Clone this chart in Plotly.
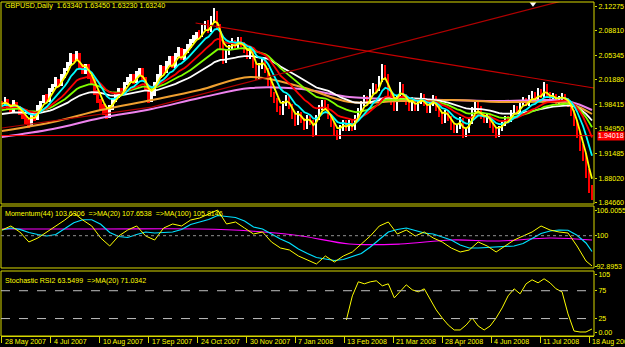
import plotly.graph_objects as go
import pandas as pd

# ---------------- data ----------------
date_labels = ["28 May 2007", "4 Jul 2007", "10 Aug 2007", "17 Sep 2007", "24 Oct 2007",
               "30 Nov 2007", "7 Jan 2008", "13 Feb 2008", "21 Mar 2008", "28 Apr 2008",
               "4 Jun 2008", "11 Jul 2008", "18 Aug 2008"]
bars_between_labels = 49 / 3

first_open = 1.9861
closes = [
    1.9833, 1.9903, 1.9818, 1.9762, 1.9861, 1.9804, 1.9734, 1.9678, 1.9607, 1.9565,
    1.9678, 1.9649, 1.9790, 1.9875, 1.9945, 1.9903, 2.0044, 2.0100, 2.0185, 2.0128,
    2.0241, 2.0326, 2.0410, 2.0523, 2.0467, 2.0551, 2.0382, 2.0298, 2.0382, 2.0241,
    2.0157, 2.0016, 1.9903, 1.9818, 1.9734, 1.9678, 1.9790, 1.9903, 1.9959, 2.0044,
    2.0016, 2.0128, 2.0185, 2.0241, 2.0157, 2.0269, 2.0326, 2.0213, 2.0072, 1.9903,
    1.9988, 2.0128, 2.0241, 2.0354, 2.0298, 2.0410, 2.0495, 2.0382, 2.0523, 2.0607,
    2.0495, 2.0579, 2.0664, 2.0720, 2.0777, 2.0833, 2.0805, 2.0917, 2.0974, 2.0889,
    2.1030, 2.1115, 2.0946, 2.0692, 2.0467, 2.0579, 2.0636, 2.0720, 2.0664, 2.0748,
    2.0692, 2.0607, 2.0523, 2.0607, 2.0410, 2.0241, 2.0382, 2.0467, 2.0326, 2.0157,
    1.9988, 1.9903, 1.9790, 1.9734, 1.9847, 1.9931, 1.9818, 1.9678, 1.9593, 1.9706,
    1.9621, 1.9537, 1.9649, 1.9593, 1.9452, 1.9649, 1.9790, 1.9875, 1.9818, 1.9678,
    1.9565, 1.9452, 1.9396, 1.9508, 1.9593, 1.9508, 1.9593, 1.9508, 1.9649, 1.9762,
    1.9847, 1.9931, 1.9875, 2.0016, 2.0100, 2.0044, 2.0185, 2.0354, 2.0241, 1.9988,
    1.9875, 1.9790, 1.9931, 2.0100, 1.9959, 1.9875, 1.9790, 1.9903, 1.9790, 1.9875,
    1.9959, 1.9847, 1.9762, 1.9847, 1.9931, 1.9790, 1.9706, 1.9621, 1.9734, 1.9649,
    1.9537, 1.9480, 1.9537, 1.9621, 1.9424, 1.9480, 1.9593, 1.9762, 1.9847, 1.9790,
    1.9678, 1.9621, 1.9678, 1.9565, 1.9480, 1.9424, 1.9508, 1.9565, 1.9649, 1.9621,
    1.9734, 1.9790, 1.9734, 1.9847, 1.9903, 1.9847, 1.9931, 1.9988, 1.9903, 2.0016,
    1.9959, 2.0100, 1.9988, 1.9903, 1.9959, 1.9875, 1.9931, 1.9959, 1.9903, 1.9847,
    1.9734, 1.9593, 1.9424, 1.9255, 1.9114, 1.8889, 1.8663, 1.8550,
]
# shadow lengths above / below each body, in pips
wick_up_pips = [
    25, 40, 20, 30, 45, 20, 15, 30, 20, 35,
    30, 25, 40, 20, 35, 45, 30, 25, 40, 20,
    35, 30, 25, 40, 30, 45, 20, 30, 35, 25,
    20, 30, 25, 20, 30, 35, 40, 25, 30, 35,
    25, 30, 40, 35, 30, 45, 30, 25, 20, 30,
    40, 35, 30, 45, 30, 40, 35, 30, 40, 45,
    35, 40, 30, 45, 40, 35, 50, 45, 40, 55,
    60, 80, 40, 30, 35, 45, 40, 50, 35, 45,
    40, 35, 30, 45, 30, 25, 40, 35, 30, 25,
    30, 35, 25, 30, 45, 40, 30, 25, 35, 40,
    30, 25, 40, 30, 25, 45, 40, 35, 30, 25,
    30, 25, 30, 40, 35, 30, 35, 30, 40, 35,
    40, 45, 35, 40, 45, 35, 50, 60, 40, 30,
    35, 30, 45, 55, 35, 30, 25, 40, 30, 35,
    40, 30, 25, 35, 40, 30, 25, 30, 35, 30,
    25, 30, 35, 40, 30, 35, 40, 45, 35, 30,
    30, 25, 35, 30, 25, 30, 35, 40, 35, 30,
    35, 40, 30, 45, 40, 35, 40, 45, 35, 50,
    40, 55, 35, 30, 40, 30, 35, 40, 30, 25,
    20, 25, 30, 35, 30, 40, 45, 40,
]
wick_dn_pips = [
    30, 20, 35, 40, 25, 30, 35, 40, 45, 50,
    30, 35, 25, 30, 20, 30, 25, 30, 20, 35,
    25, 30, 20, 25, 35, 20, 40, 35, 25, 40,
    35, 40, 45, 50, 45, 40, 35, 30, 25, 30,
    25, 30, 20, 25, 35, 20, 30, 35, 40, 45,
    30, 25, 20, 25, 30, 20, 25, 30, 25, 20,
    30, 25, 20, 25, 20, 30, 25, 20, 30, 35,
    30, 40, 60, 70, 55, 40, 35, 30, 35, 30,
    35, 40, 45, 35, 50, 55, 40, 35, 45, 50,
    45, 40, 50, 45, 35, 30, 40, 45, 50, 40,
    45, 50, 40, 45, 70, 35, 30, 25, 30, 40,
    45, 50, 55, 40, 35, 40, 35, 40, 30, 25,
    30, 25, 30, 25, 30, 25, 20, 30, 45, 50,
    40, 45, 35, 30, 40, 45, 40, 35, 40, 35,
    30, 35, 40, 35, 30, 40, 45, 50, 40, 45,
    50, 45, 40, 45, 60, 40, 35, 25, 30, 35,
    40, 45, 40, 50, 45, 50, 40, 35, 30, 35,
    30, 25, 30, 25, 30, 25, 30, 25, 30, 25,
    30, 25, 35, 30, 35, 30, 30, 35, 40, 45,
    50, 55, 60, 65, 70, 80, 75, 60,
]

# fast exponential averages: span (in bars of this series) and value at the first bar
ema_spans = [4, 9, 17, 28, 45]
ema_seeds = [1.9847, 1.9818, 1.9790, 1.9762, 1.9706]

# slow averages at sample bars
slow_ma_idx = [0, 17, 33, 50, 66, 83, 100, 116, 133, 150, 166, 183, 190, 197]
orange_ma = [1.9466, 1.9593, 1.9762, 1.9903, 2.0044, 2.0227, 2.0086, 1.9875, 1.9889,
             1.9903, 1.9875, 1.9875, 1.9847, 1.9706]
violet_ma = [1.9382, 1.9494, 1.9649, 1.9776, 1.9931, 2.0072, 2.0058, 1.9945, 1.9917,
             1.9903, 1.9889, 1.9903, 1.9875, 1.9762]

# drawn objects (bar index, price)
rising_line_idx = [0, 50, 197.67]
rising_line_val = [1.9509, 1.9804, 2.1415]
falling_line_idx = [64.67, 197.67]
falling_line_val = [2.0988, 2.0072]
marker_idx, marker_price = 177.3, 2.1258
hline_price = 1.94018
main_ticks = [2.12275, 2.08810, 2.05345, 2.01880, 1.98415, 1.94950, 1.91485, 1.88020, 1.84660]

# Momentum(44)
mom_idx = list(range(0, 196, 3)) + [197]
momentum = [
    101.33, 102.27, 100.87, 98.53, 99.46, 100.87, 102.27, 103.67, 105.31, 103.67,
    102.27, 99.46, 97.59, 99.93, 101.33, 102.27, 99.93, 98.99, 101.80, 102.74,
    102.27, 103.67, 104.14, 105.08, 106.01, 102.74, 103.21, 101.80, 100.40, 100.87,
    98.53, 97.12, 96.65, 95.25, 94.31, 93.38, 95.25, 93.84, 95.25, 96.19,
    98.06, 99.93, 102.27, 103.21, 100.40, 101.33, 99.93, 100.87, 99.46, 98.53,
    97.12, 96.19, 96.65, 98.53, 97.59, 96.19, 97.59, 98.99, 99.93, 100.87,
    102.27, 101.33, 100.87, 100.63, 97.59, 94.08, 92.91,
]
mom_ma100_idx = [0, 33, 66, 83, 100, 116, 133, 150, 166, 183, 197]
mom_ma100 = [101.57, 101.57, 101.57, 101.10, 99.93, 98.06, 98.06, 98.99, 98.76, 99.46, 98.99]
mom_ticks = [106.0055, 100, 92.8953]
mom_tick_text = ["106.0055", "100", "92.8953"]

# Stochastic RSI
stoch_idx = list(range(115, 198, 2))
stoch = [
    22.5, 65.8, 91.0, 87.4, 91.0, 92.8, 83.8, 87.4, 62.2, 73.0,
    85.6, 76.6, 73.0, 78.4, 58.6, 40.5, 26.1, 13.5, 4.5, 4.5,
    13.5, 26.1, 11.7, 4.5, 11.7, 26.1, 44.1, 65.8, 78.4, 69.4,
    87.4, 94.6, 89.2, 96.4, 89.2, 78.4, 73.0, 33.3, 2.7, 0.9,
    0.9, 6.3,
]
stoch_ticks = [105, 75, 25, 0]
stoch_tick_text = ["105", "75", "25", "0.00"]

# ---------------- styles ----------------
FG = "#FFFF00"
FRAME = "#D8D800"
FONT = "Liberation Sans, Arial, sans-serif"
FS = 7.1
ema_colors = ["#FFFF00", "#00FFFF", "#FF0000", "#80FF00", "#FFFFFF"]

n = len(closes)
idx = list(range(n))
opens = [first_open] + closes[:-1]

fig = go.Figure()

# price bars: high-low range, white when rising, red when falling
for up, color in [(True, "#FFFFFF"), (False, "#FF0000")]:
    xs, bases, hs = [], [], []
    for i in idx:
        o, c = opens[i], closes[i]
        if (c >= o) == up:
            lo = min(o, c) - wick_dn_pips[i] / 10000
            hi = max(o, c) + wick_up_pips[i] / 10000
            xs.append(i)
            bases.append(lo)
            hs.append(hi - lo)
    fig.add_trace(go.Bar(x=xs, y=hs, base=bases, width=0.6, marker_color=color,
                         marker_line_width=0, xaxis="x", yaxis="y", showlegend=False))

# slow averages
fig.add_trace(go.Scatter(x=slow_ma_idx, y=violet_ma, mode="lines", line=dict(color="#EE82EE", width=2, shape="spline"),
                         xaxis="x", yaxis="y", showlegend=False))
fig.add_trace(go.Scatter(x=slow_ma_idx, y=orange_ma, mode="lines", line=dict(color="#F0A030", width=2, shape="spline"),
                         xaxis="x", yaxis="y", showlegend=False))

# fast averages, drawn slowest first
ema_values = []
for span, seed in zip(ema_spans, ema_seeds):
    a = 2 / (span + 1)
    vals = [seed]
    for c in closes[1:]:
        vals.append(a * c + (1 - a) * vals[-1])
    ema_values.append(vals)
for vals, col in reversed(list(zip(ema_values, ema_colors))):
    fig.add_trace(go.Scatter(x=idx, y=vals, mode="lines", line=dict(color=col, width=1.8),
                             xaxis="x", yaxis="y", showlegend=False))

# drawn lines
fig.add_trace(go.Scatter(x=rising_line_idx, y=rising_line_val, mode="lines", line=dict(color="#B00000", width=1.2),
                         xaxis="x", yaxis="y", showlegend=False))
fig.add_trace(go.Scatter(x=falling_line_idx, y=falling_line_val, mode="lines", line=dict(color="#C80000", width=1.2),
                         xaxis="x", yaxis="y", showlegend=False))
fig.add_trace(go.Scatter(x=[marker_idx], y=[marker_price], mode="markers",
                         marker=dict(symbol="triangle-down", size=6, color="#FFFFFF"),
                         xaxis="x", yaxis="y", showlegend=False))

# momentum panel
mom_ma20 = pd.Series(momentum).rolling(4, min_periods=1).mean().tolist()
fig.add_trace(go.Scatter(x=mom_ma100_idx, y=mom_ma100, mode="lines", line=dict(color="#FF00FF", width=1.2, shape="spline"),
                         xaxis="x2", yaxis="y2", showlegend=False))
fig.add_trace(go.Scatter(x=mom_idx, y=mom_ma20, mode="lines", line=dict(color="#00E0FF", width=1.2),
                         xaxis="x2", yaxis="y2", showlegend=False))
fig.add_trace(go.Scatter(x=mom_idx, y=momentum, mode="lines", line=dict(color="#FFFF00", width=1),
                         xaxis="x2", yaxis="y2", showlegend=False))

# stochastic panel
fig.add_trace(go.Scatter(x=stoch_idx, y=stoch, mode="lines", line=dict(color="#FFFF00", width=1),
                         xaxis="x3", yaxis="y3", showlegend=False))

xr = [-0.3, 197.67]
tick_idx = [k * bars_between_labels for k in range(len(date_labels))]
axis_common = dict(showgrid=False, zeroline=False, fixedrange=True, automargin=False)
yaxis_common = dict(axis_common, side="right", ticks="outside", ticklen=2, tickcolor=FRAME,
                    tickfont=dict(color=FG, size=FS, family=FONT), showline=False)

shapes = []
for xa, ya in [("x", "y"), ("x2", "y2"), ("x3", "y3")]:
    shapes.append(dict(type="rect", xref=f"{xa} domain", yref=f"{ya} domain", x0=0, x1=1, y0=0, y1=1,
                       line=dict(color=FRAME, width=1), layer="above"))
shapes.append(dict(type="line", xref="x domain", yref="y", x0=0, x1=1, y0=hline_price, y1=hline_price,
                   line=dict(color="#FF0000", width=1)))
shapes.append(dict(type="line", xref="x2 domain", yref="y2", x0=0, x1=1, y0=100, y1=100,
                   line=dict(color="#909090", width=1, dash="dot")))
for lvl in (75, 25):
    shapes.append(dict(type="line", xref="x3 domain", yref="y3", x0=0, x1=1, y0=lvl, y1=lvl,
                       line=dict(color="#C0C0C0", width=1, dash="dash")))

H = 334.0
def py(pix):
    return (336 - pix) / H

tfont = dict(color=FG, size=FS, family=FONT)
annotations = [
    dict(xref="paper", yref="paper", x=2 / 593, y=py(6), xanchor="left", yanchor="middle",
         text="GBPUSD,Daily  1.63340 1.63450 1.63230 1.63240", showarrow=False, font=tfont),
    dict(xref="paper", yref="paper", x=2 / 593, y=py(214), xanchor="left", yanchor="middle",
         text="Momentum(44) 103.6306  =>MA(20) 107.6538  =>MA(100) 105.8146", showarrow=False, font=tfont),
    dict(xref="paper", yref="paper", x=2 / 593, y=py(281), xanchor="left", yanchor="middle",
         text="Stochastic RSI2 63.5499  =>MA(20) 71.0342", showarrow=False, font=tfont),
    dict(xref="paper", yref="y", x=1, xshift=3, y=hline_price, xanchor="left", yanchor="middle",
         text="1.94018", showarrow=False, bgcolor="#FF0000", borderpad=0,
         font=dict(color="#FFFFFF", size=FS, family=FONT)),
]
for t, lab in zip(tick_idx, date_labels):
    annotations.append(dict(xref="x3", yref="paper", x=t, xshift=1, y=py(342), xanchor="left",
                            yanchor="middle", text=lab, showarrow=False, font=tfont))

fig.update_layout(
    width=625, height=347,
    margin=dict(l=1, r=31, t=2, b=11, autoexpand=False),
    paper_bgcolor="#000000", plot_bgcolor="#000000",
    barmode="overlay", bargap=0,
    showlegend=False,
    xaxis=dict(axis_common, domain=[0, 1], anchor="y", range=xr, showticklabels=False, ticks=""),
    xaxis2=dict(axis_common, domain=[0, 1], anchor="y2", range=xr, matches="x", showticklabels=False, ticks=""),
    xaxis3=dict(axis_common, domain=[0, 1], anchor="y3", range=xr, matches="x",
                tickvals=tick_idx, ticktext=[""] * len(tick_idx), ticks="outside", ticklen=6, tickcolor=FRAME,
                showline=True, linecolor=FRAME, linewidth=1),
    yaxis=dict(yaxis_common, domain=[0.3952, 1], anchor="x", range=[1.8438, 2.1284],
               tickvals=main_ticks, ticktext=[f"{v:.5f}" for v in main_ticks]),
    yaxis2=dict(yaxis_common, domain=[0.2036, 0.3892], anchor="x2", range=[92.44, 106.95],
                tickvals=mom_ticks, ticktext=mom_tick_text, ticklabelstandoff=-2),
    yaxis3=dict(yaxis_common, domain=[0, 0.1946], anchor="x3", range=[-6.3, 110.4],
                tickvals=stoch_ticks, ticktext=stoch_tick_text),
    shapes=shapes,
    annotations=annotations,
)

fig.write_html("out.html")
